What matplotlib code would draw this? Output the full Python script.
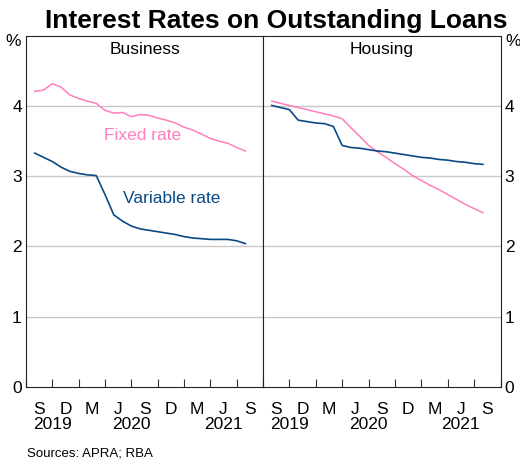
import matplotlib
matplotlib.use('Agg')
import matplotlib.pyplot as plt
import matplotlib.transforms as mtransforms

plt.rcParams['font.family'] = ['Liberation Sans', 'DejaVu Sans']

# monthly data, Jul 2019 to Jul 2021 (end of month)
months = list(range(1, 26))

business_fixed = [4.21, 4.23, 4.32, 4.27, 4.16, 4.11, 4.07, 4.04, 3.94, 3.90, 3.91, 3.85, 3.88,
                  3.87, 3.83, 3.80, 3.76, 3.70, 3.66, 3.60, 3.54, 3.50, 3.47, 3.41, 3.36]
business_variable = [3.33, 3.27, 3.21, 3.13, 3.07, 3.04, 3.02, 3.01, 2.74, 2.45, 2.36, 2.29, 2.25,
                     2.23, 2.21, 2.19, 2.17, 2.14, 2.12, 2.11, 2.10, 2.10, 2.10, 2.08, 2.04]
housing_fixed = [4.07, 4.04, 4.01, 3.98, 3.95, 3.92, 3.89, 3.86, 3.82, 3.69, 3.57, 3.44, 3.35,
                 3.27, 3.18, 3.10, 3.01, 2.94, 2.87, 2.81, 2.74, 2.67, 2.60, 2.54, 2.48]
housing_variable = [4.01, 3.98, 3.95, 3.80, 3.78, 3.76, 3.75, 3.71, 3.44, 3.41, 3.40, 3.38, 3.36,
                    3.35, 3.33, 3.31, 3.29, 3.27, 3.26, 3.24, 3.23, 3.21, 3.20, 3.18, 3.17]

quarter_labels = ['S', 'D', 'M', 'J', 'S', 'D', 'M', 'J', 'S']
year_labels = ['2019', '2020', '2021']
year_pos = [3, 12, 22.5]

fixed_col = '#ff7ebd'
var_col = '#0a4a85'
fs = 12.5

fig = plt.figure(figsize=(5.2, 4.61), dpi=100)
ax1 = fig.add_axes([0.05, 0.1612, 0.4558, 0.7607])
ax2 = fig.add_axes([0.5058, 0.1612, 0.4567, 0.7607])

panels = [(ax1, 'Business', business_fixed, business_variable),
          (ax2, 'Housing', housing_fixed, housing_variable)]

for ax, name, fixed, var in panels:
    ax.plot(months, fixed, color=fixed_col, lw=1.1)
    ax.plot(months, var, color=var_col, lw=1.2)
    ax.set_xlim(0, 27)
    ax.set_ylim(0, 5)
    ax.set_yticks([0, 1, 2, 3, 4])
    for v in [1, 2, 3, 4]:
        ax.axhline(v, color='#c8c8c8', lw=1, zorder=0)
    ax.set_xticks(range(0, 28, 3))
    ax.set_xticklabels([])
    ax.set_xticks([1.5 + 3 * i for i in range(9)], minor=True)
    ax.set_xticklabels(quarter_labels, minor=True)
    ax.tick_params(axis='x', which='major', direction='in', length=6, width=0.8, color='#333333')
    ax.tick_params(axis='x', which='minor', length=0, pad=11, labelsize=fs)
    ax.tick_params(axis='y', length=0, labelsize=fs, pad=3)
    for s in ax.spines.values():
        s.set_color('#222222')
        s.set_linewidth(0.8)
    ax.text(13.5, 4.81, name, ha='center', va='center', fontsize=fs)
    trans = mtransforms.blended_transform_factory(ax.transData, fig.transFigure)
    for lab, xp in zip(year_labels, year_pos):
        ax.text(xp, 1 - 424 / 461, lab, transform=trans, ha='center', va='center', fontsize=fs)

ax2.yaxis.tick_right()
ax2.tick_params(axis='y', length=0, labelsize=fs, pad=3)

ax1.text(-0.6, 4.92, '%', ha='right', va='center', fontsize=fs)
ax2.text(27.6, 4.92, '%', ha='left', va='center', fontsize=fs)

ax1.text(13.3, 3.58, 'Fixed rate', color=fixed_col, ha='center', va='center', fontsize=fs)
ax1.text(16.6, 2.69, 'Variable rate', color=var_col, ha='center', va='center', fontsize=fs)

fig.text(276 / 520, 1 - 21 / 461, 'Interest Rates on Outstanding Loans', ha='center', va='center',
         fontsize=19, fontweight='bold')
fig.text(27 / 520, 1 - 453 / 461, 'Sources: APRA; RBA', ha='left', va='center', fontsize=9.5)

fig.savefig('out.png', dpi=100)
